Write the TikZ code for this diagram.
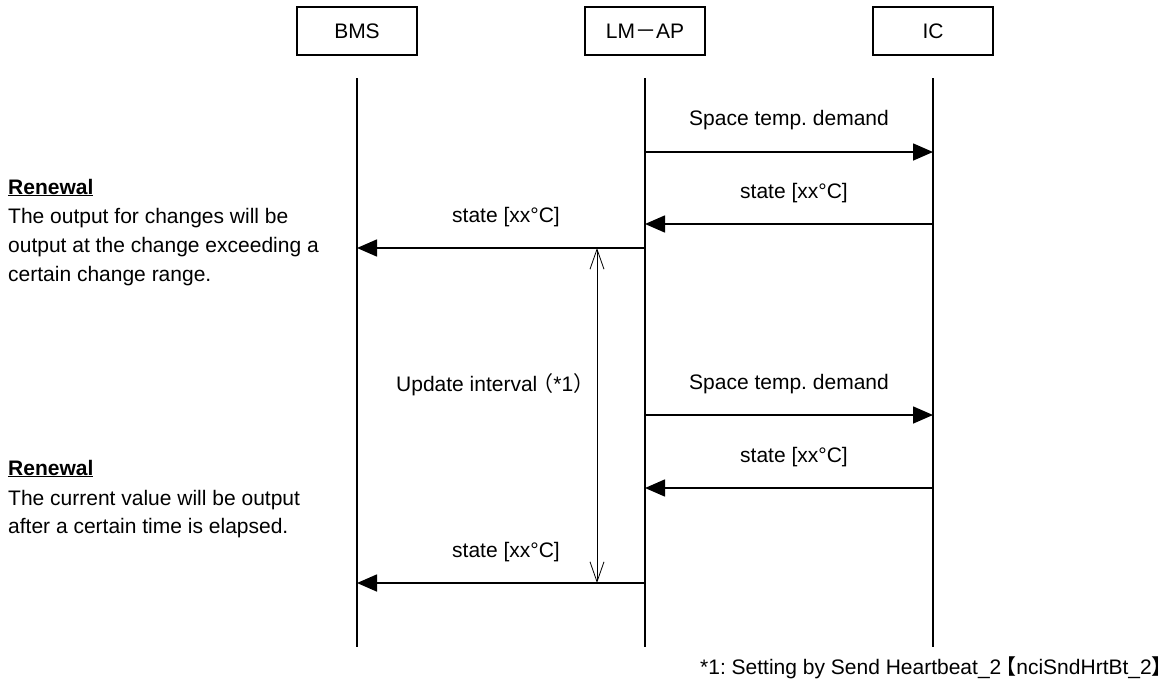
\documentclass[tikz,border=0pt]{standalone}
\usepackage{fontspec}
\setmainfont{Liberation Sans}
\newfontfamily\cjk{Noto Sans CJK JP}
\usetikzlibrary{arrows.meta}
\frenchspacing
\begin{document}
\begin{tikzpicture}[x=1pt,y=-1pt,
  txt/.style={font=\fontsize{21}{25}\selectfont, inner sep=0pt},
  actor/.style={draw, line width=1.4pt, minimum width=120pt, minimum height=48pt, txt, inner sep=0pt},
  lifeline/.style={line width=1.6pt},
  msg/.style={line width=1.6pt, -{Triangle[length=20pt,width=17pt]}},
  interval/.style={line width=0.8pt, {Straight Barb[length=20pt,width=14pt]}-{Straight Barb[length=20pt,width=14pt]}},
  lbl/.style={txt, anchor=base},
  note/.style={txt, anchor=base west}]
\useasboundingbox (0,0) rectangle (1173,688);
% actors
\node[actor] (bms) at (357,31) {BMS};
\node[actor] (lm) at (645,31) {LM{\cjk －}AP};
\node[actor] (ic) at (933,31) {IC};
% lifelines
\coordinate (bmsT) at (357,78); \coordinate (bmsB) at (357,647);
\coordinate (lmT) at (645,78);  \coordinate (lmB) at (645,647);
\coordinate (icT) at (933,78);  \coordinate (icB) at (933,647);
\draw[lifeline] (bmsT) -- (bmsB);
\draw[lifeline] (lmT) -- (lmB);
\draw[lifeline] (icT) -- (icB);
% message points
\coordinate (lm1) at (645,152); \coordinate (ic1) at (933,152);
\coordinate (ic2) at (933,224); \coordinate (lm2) at (645,224);
\coordinate (lm3) at (645,248); \coordinate (bms3) at (357,248);
\coordinate (lm4) at (645,415); \coordinate (ic4) at (933,415);
\coordinate (ic5) at (933,488); \coordinate (lm5) at (645,488);
\coordinate (lm6) at (645,583); \coordinate (bms6) at (357,583);
\draw[msg] (lm1) -- (ic1);
\draw[msg] (ic2) -- (lm2);
\draw[msg] (lm3) -- (bms3);
\draw[msg] (lm4) -- (ic4);
\draw[msg] (ic5) -- (lm5);
\draw[msg] (lm6) -- (bms6);
% labels
\node[lbl] (l1) at (789,125) {Space temp. demand};
\node[lbl] (l2) at (794,198) {state [xx°C]};
\node[lbl] (l3) at (506,222) {state [xx°C]};
\node[lbl] (l4) at (789,389) {Space temp. demand};
\node[lbl] (l5) at (794,462) {state [xx°C]};
\node[lbl] (l6) at (506,557) {state [xx°C]};
% update interval
\coordinate (u1) at (597,248); \coordinate (u2) at (597,583);
\draw[interval] (u1) -- (u2);
\node[txt, anchor=base west] (ulbl) at (396,391) {Update interval{\cjk\kern-5pt （}*1{\cjk ）}};
% left notes
\node[note] (r1) at (8,194) {\textbf{\underline{Renewal}}};
\node[note] (r1a) at (8,223) {The output for changes will be};
\node[note] (r1b) at (8,252) {output at the change exceeding a};
\node[note] (r1c) at (8,281) {certain change range.};
\node[note] (r2) at (8,475) {\textbf{\underline{Renewal}}};
\node[note] (r2a) at (8,505) {The current value will be output};
\node[note] (r2b) at (8,533) {after a certain time is elapsed.};
% footnote
\node[txt, anchor=base east] (fn) at (1173,674) {*1: Setting by Send Heartbeat\_2{\cjk\kern-6pt 【}nciSndHrtBt\_2{\cjk 】}};
\end{tikzpicture}
\end{document}
